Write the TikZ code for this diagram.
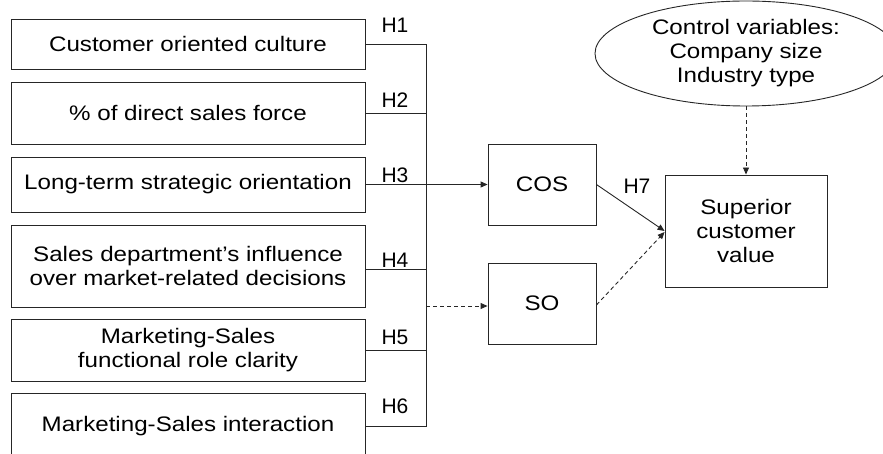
\documentclass[tikz,border=0pt]{standalone}
\usepackage{fontspec}
\setmainfont{Liberation Sans}[FakeStretch=1.15]
\newfontfamily\hfont{Liberation Sans}
\usetikzlibrary{arrows.meta,shapes.geometric}
\tikzset{
  ln/.style={line width=0.9pt,draw=black!85},
  box/.style={ln,rectangle,inner sep=0pt,align=center,font=\fontsize{21}{24}\selectfont},
  lbl/.style={inner sep=0pt,font=\hfont\fontsize{21}{24}\selectfont},
  arr/.style={ln,-{Triangle[length=7pt,width=6pt]}},
  dsh/.style={dash pattern=on 4pt off 3pt}
}
\begin{document}
\begin{tikzpicture}[x=1pt,y=-1pt]
\useasboundingbox (0,0) rectangle (883,454);
\begin{scope}
\clip (0,0) rectangle (883,454);
\node[box,minimum width=354pt,minimum height=50pt] (b1) at (188,44) {Customer oriented culture};
\node[box,minimum width=354pt,minimum height=62pt] (b2) at (188,113) {\% of direct sales force};
\node[box,minimum width=354pt,minimum height=55pt] (b3) at (188,184.5) {Long-term strategic orientation};
\node[box,minimum width=354pt,minimum height=82pt] (b4) at (188,266) {Sales department’s influence\\over market-related decisions};
\node[box,minimum width=354pt,minimum height=62pt] (b5) at (188,350) {Marketing-Sales\\functional role clarity};
\node[box,minimum width=354pt,minimum height=66pt] (b6) at (188,426) {Marketing-Sales interaction};

\node[box,minimum width=108pt,minimum height=81pt] (cos) at (542,184.5) {COS};
\node[box,minimum width=108pt,minimum height=81pt] (so) at (542,303.5) {SO};
\node[box,minimum width=162pt,minimum height=112pt] (sup) at (746,231) {Superior\\customer\\value};
\node[box,ellipse,minimum width=302pt,minimum height=105pt] (ctrl) at (746,53.5) {Control variables:\\Company size\\Industry type};

\coordinate (t1) at (426,44);
\coordinate (t6) at (426,426);
\coordinate (t3) at (426,184.5);
\coordinate (ds) at (426,306);

\draw[ln] (b1.east) -- (t1) -- (t6) -- (b6.east);
\draw[ln] (b2.east) -- (b2.east -| t1);
\draw[ln] ([yshift=-3pt]b4.east) -- ([yshift=-3pt]b4.east -| t1);
\draw[ln] (b5.east) -- (b5.east -| t1);
\draw[arr] (b3.east) -- (cos.west);
\draw[arr,dsh] (ds) -- (ds -| so.west);
\draw[arr] (cos.east) -- (sup.west);
\draw[arr,dsh] ([yshift=-1.5pt]so.east) -- ([yshift=-1pt]sup.west);
\draw[arr,dsh] (ctrl.south) -- (sup.north);

\node[lbl] (h1) at (395,25) {H1};
\node[lbl] (h2) at (395,100) {H2};
\node[lbl] (h3) at (395,175) {H3};
\node[lbl] (h4) at (395,260) {H4};
\node[lbl] (h5) at (395,337) {H5};
\node[lbl] (h6) at (395,406) {H6};
\node[lbl] (h7) at (637,186) {H7};
\end{scope}
\end{tikzpicture}
\end{document}
